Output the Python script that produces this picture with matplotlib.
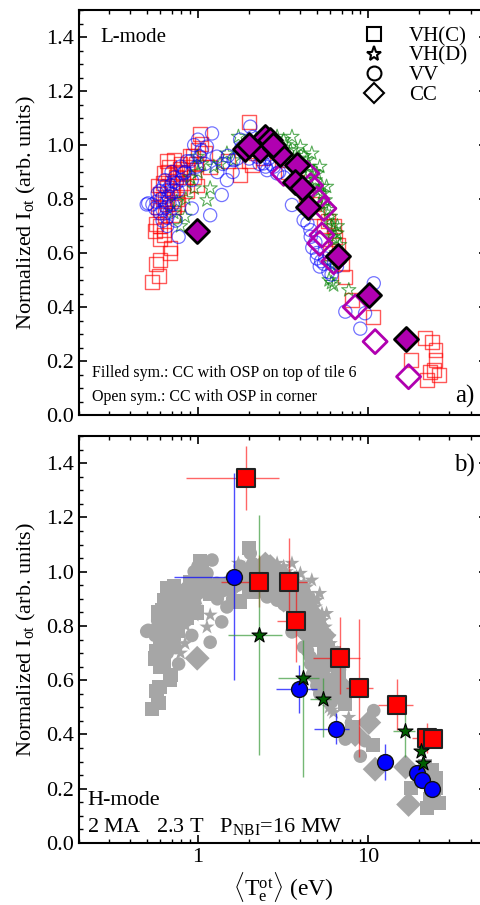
import numpy as np
import matplotlib
matplotlib.use("Agg")
import matplotlib.pyplot as plt
from matplotlib.lines import Line2D
from matplotlib.ticker import MultipleLocator, LogLocator, NullFormatter, FixedLocator, FixedFormatter

plt.rcParams['font.family'] = ['Liberation Serif', 'DejaVu Serif']
plt.rcParams['mathtext.fontset'] = 'custom'
plt.rcParams['mathtext.rm'] = 'Liberation Serif'
plt.rcParams['mathtext.it'] = 'Liberation Serif:italic'

# ---- L-mode cloud (T_e in eV, normalized I_ot) ----
vhc_T = [0.537, 0.587, 0.57, 0.595, 0.687, 0.69, 0.57, 0.63, 0.63, 0.60,
         0.58, 0.63, 0.655, 0.72, 0.79, 0.82, 1.03, 1.05, 0.99, 0.86, 0.75, 1.18,
         0.62, 0.66, 0.70, 0.75, 0.68, 0.60, 0.64, 0.72, 0.93, 0.88, 1.0, 0.95, 0.78,
         0.6, 0.62, 0.66, 0.7, 0.74, 0.78, 0.82, 0.86, 0.9, 0.67, 0.58, 0.64, 0.71,
         0.76, 0.6, 0.56, 1.1, 0.98, 1.5,
         1.77, 1.99, 2.08, 2.0, 2.4, 2.2, 2.6, 3.12, 3.4, 3.83, 4.3, 4.8, 5.0, 5.5,
         5.8, 6.27, 6.4, 6.7, 6.0, 7.0, 7.35, 8.06, 10.7,
         21.7, 23.7, 24.9, 24.9, 17.9, 24.5, 22.2, 26.0, 23.0]
vhc_I = [0.494, 0.515, 0.56, 0.575, 0.60, 0.62, 0.707, 0.685, 0.667, 0.70,
         0.85, 0.895, 0.94, 0.945, 0.93, 0.895, 1.04, 1.005, 0.85, 0.83, 0.80, 0.92,
         0.80, 0.78, 0.86, 0.90, 0.92, 0.76, 0.74, 0.77, 0.96, 0.90, 0.98, 0.88, 0.84,
         0.82, 0.86, 0.84, 0.83, 0.88, 0.91, 0.86, 0.92, 0.96, 0.90, 0.77, 0.80, 0.74,
         0.78, 0.65, 0.68, 0.97, 0.93, 0.94,
         0.89, 1.086, 0.926, 0.94, 0.95, 0.97, 0.99, 0.944, 0.90, 0.864, 0.82, 0.78, 0.75, 0.70,
         0.72, 0.70, 0.66, 0.63, 0.60, 0.56, 0.512, 0.426, 0.362,
         0.284, 0.27, 0.24, 0.204, 0.204, 0.167, 0.13, 0.148, 0.16]

vhd_T = [0.79, 0.84, 1.13, 1.18, 1.62, 1.73, 3.19, 3.57, 4.0, 4.67, 5.0, 5.36, 5.6,
         6.0, 6.27, 6.4, 6.0, 6.27, 7.7, 4.37, 5.2, 5.7, 3.8, 2.92, 1.48, 0.99, 1.24,
         5.2, 6.56, 6.7, 0.75, 0.9, 1.05, 0.72, 4.2, 4.8, 5.4, 5.9, 6.1, 3.3, 2.7, 6.5, 5.9,
         3.5, 3.9, 4.1, 4.5, 4.9, 5.1, 5.5, 5.8, 6.2, 6.8, 6.6, 3.0, 2.5, 2.2, 1.9,
         0.95, 0.85, 1.0, 1.35, 6.3, 6.1, 4.7, 4.3]
vhd_I = [0.70, 0.735, 0.796, 0.84, 0.944, 1.031, 1.019, 1.031, 0.994, 0.969, 0.895, 0.846, 0.796,
         0.735, 0.685, 0.648, 0.562, 0.481, 0.463, 0.944, 0.92, 0.846, 0.981, 1.031, 0.969, 0.957, 0.92,
         0.772, 0.673, 0.599, 0.79, 0.88, 0.93, 0.75, 0.96, 0.90, 0.82, 0.76, 0.70, 1.00, 1.00, 0.60, 0.50,
         0.98, 0.95, 0.92, 0.92, 0.87, 0.83, 0.78, 0.72, 0.66, 0.63, 0.70, 0.98, 1.04, 1.02, 0.98,
         0.84, 0.80, 0.90, 0.93, 0.55, 0.49, 0.84, 0.87]

vv_T = [0.51, 0.56, 0.61, 0.66, 0.70, 0.77, 0.66, 1.18, 0.92, 0.92, 1.21, 1.13, 1.38, 1.48,
        1.62, 1.77, 2.03, 2.22, 2.55, 2.92, 3.57, 4.18, 4.58, 5.0, 5.2, 5.85, 6.56, 7.35, 9.0,
        10.8, 9.6, 0.63, 0.72, 0.82, 0.60, 0.68, 0.79, 1.03, 1.29, 2.12, 2.43, 2.79, 0.54, 0.58,
        0.64, 0.70, 0.86, 0.95, 1.05, 0.75, 0.67, 0.62, 1.9, 2.3, 2.6, 4.9, 5.3, 4.7, 5.6, 6.1,
        0.98, 1.1, 0.74, 0.66,
        1.4, 1.5, 1.7, 1.8, 2.0, 2.1, 2.4, 2.5, 2.7, 3.0, 3.2, 1.3, 1.6, 0.57, 0.6, 0.65,
        0.69, 0.73, 0.76, 0.8, 0.84, 0.9, 0.62, 0.68, 1.0, 4.6, 5.0, 5.5, 4.4, 0.5, 0.71]
vv_I = [0.784, 0.765, 0.80, 0.833, 0.82, 0.66, 0.73, 0.74, 0.765, 0.87, 1.043, 0.994, 0.815, 0.87,
        0.944, 1.02, 1.068, 0.957, 0.907, 0.895, 0.778, 0.722, 0.685, 0.60, 0.55, 0.53, 0.55, 0.383, 0.32,
        0.488, 0.377, 0.846, 0.864, 0.895, 0.747, 0.784, 0.92, 0.957, 0.957, 0.994, 0.932, 0.92, 0.78, 0.82,
        0.87, 0.90, 0.94, 1.0, 0.98, 0.86, 0.81, 0.76, 0.97, 0.93, 0.95, 0.64, 0.57, 0.62, 0.58, 0.52,
        0.92, 0.93, 0.72, 0.70,
        0.93, 0.96, 0.95, 0.99, 0.95, 1.03, 1.0, 0.92, 0.93, 0.90, 0.88, 0.90, 0.90, 0.79, 0.83, 0.77,
        0.85, 0.88, 0.83, 0.87, 0.90, 0.94, 0.72, 0.75, 1.02, 0.66, 0.58, 0.56, 0.71, 0.78, 0.78]

cc_fill_T = [0.99, 1.88, 2.33, 2.49, 2.66, 2.85, 3.02, 3.83, 3.74, 4.09, 4.44, 6.7, 10.1, 16.6, 2.0, 2.75]
cc_fill_I = [0.681, 0.985, 0.981, 1.028, 1.019, 0.988, 0.967, 0.926, 0.864, 0.84, 0.769, 0.589, 0.444, 0.28, 1.0, 1.0]
cc_open_T = [3.19, 4.37, 5.0, 5.5, 5.36, 5.2, 6.27, 8.4, 11.0, 17.3, 4.6]
cc_open_I = [0.895, 0.895, 0.80, 0.765, 0.667, 0.636, 0.568, 0.40, 0.272, 0.142, 0.85]

# ---- H-mode points with error bars (value, low, high) ----
h_vhc_T = [1.92, 2.28, 3.43, 3.77, 6.84, 8.85, 14.8, 22.2, 24.0]
h_vhc_Tlo = [0.85, 1.37, 3.0, 2.91, 4.75, 7.4, 11.4, 18.1, 23.0]
h_vhc_Thi = [2.99, 2.55, 4.37, 4.1, 9.0, 10.7, 18.4, 23.0, 25.0]
h_vhc_I = [1.345, 0.962, 0.962, 0.818, 0.682, 0.571, 0.509, 0.386, 0.383]
h_vhc_Ilo = [1.227, 0.87, 0.85, 0.667, 0.55, 0.317, 0.417, 0.33, 0.36]
h_vhc_Ihi = [1.463, 1.061, 1.124, 1.0, 0.833, 0.826, 0.604, 0.442, 0.40]

h_vv_T = [1.63, 3.94, 6.46, 12.6, 19.5, 20.7, 23.9]
h_vv_Tlo = [0.726, 2.87, 4.8, 11.5, 18.5, 19.8, 23.0]
h_vv_Thi = [1.75, 4.99, 7.7, 13.8, 20.5, 22.0, 24.8]
h_vv_I = [0.98, 0.568, 0.419, 0.297, 0.259, 0.232, 0.20]
h_vv_Ilo = [0.60, 0.479, 0.365, 0.232, 0.24, 0.21, 0.19]
h_vv_Ihi = [1.364, 0.656, 0.479, 0.365, 0.28, 0.255, 0.21]

h_vhd_T = [2.28, 4.13, 5.46, 16.4, 20.4, 21.0]
h_vhd_Tlo = [1.50, 2.96, 4.56, 14.0, 19.5, 20.0]
h_vhd_Thi = [3.12, 5.15, 6.06, 18.9, 21.3, 22.0]
h_vhd_I = [0.767, 0.609, 0.531, 0.413, 0.34, 0.296]
h_vhd_Ilo = [0.324, 0.243, 0.391, 0.317, 0.32, 0.28]
h_vhd_Ihi = [1.209, 0.748, 0.608, 0.497, 0.36, 0.31]

RED = '#ff0000'
BLUE = '#0000ff'
GREEN = '#008000'
MAG = '#b000b0'
GRAY = '#a6a6a6'

fig = plt.figure(figsize=(4.8, 9.05), dpi=100)
ax1 = fig.add_axes([0.1646, 0.5414, 0.85, 0.4475])
ax2 = fig.add_axes([0.1646, 0.0685, 0.85, 0.4497])

def style(ax):
    ax.set_xscale('log')
    ax.set_xlim(0.2, 50)
    ax.set_ylim(0, 1.5)
    ax.yaxis.set_major_locator(FixedLocator([0.0, 0.2, 0.4, 0.6, 0.8, 1.0, 1.2, 1.4]))
    ax.yaxis.set_major_formatter(FixedFormatter(['0.0', '0.2', '0.4', '0.6', '0.8', '1.0', '1.2', '1.4']))
    ax.yaxis.set_minor_locator(MultipleLocator(0.05))
    ax.xaxis.set_major_locator(FixedLocator([1, 10]))
    ax.xaxis.set_minor_locator(LogLocator(base=10, subs=np.arange(2, 10)))
    ax.xaxis.set_minor_formatter(NullFormatter())
    ax.tick_params(which='both', direction='in', top=True, right=True, labelsize=16)
    ax.tick_params(which='major', length=6, width=1.2)
    ax.tick_params(which='minor', length=3, width=1.0)
    for s in ax.spines.values():
        s.set_linewidth(1.5)
    ax.set_ylabel(r'Normalized I$_{\mathrm{ot}}$ (arb. units)', fontsize=16, labelpad=6)

style(ax1)
style(ax2)

# top panel: L-mode
ax1.scatter(vhc_T, vhc_I, s=100, marker='s', facecolors='none', edgecolors=RED, linewidths=1.0, alpha=0.65)
ax1.scatter(vhd_T, vhd_I, s=115, marker='*', facecolors='none', edgecolors=GREEN, linewidths=0.8, alpha=0.65)
ax1.scatter(vv_T, vv_I, s=90, marker='o', facecolors='none', edgecolors=BLUE, linewidths=0.9, alpha=0.55)
ax1.scatter(cc_open_T, cc_open_I, s=150, marker='D', facecolors='none', edgecolors=MAG, linewidths=2.0, zorder=4)
ax1.scatter(cc_fill_T, cc_fill_I, s=150, marker='D', facecolors=MAG, edgecolors='black', linewidths=2.0, zorder=5)
ax1.set_xticklabels([])

ax1.text(0.052, 0.955, 'L-mode', transform=ax1.transAxes, fontsize=15, va='top')
ax1.text(0.032, 0.105, 'Filled sym.: CC with OSP on top of tile 6', transform=ax1.transAxes, fontsize=11.5, va='center')
ax1.text(0.032, 0.045, 'Open sym.: CC with OSP in corner', transform=ax1.transAxes, fontsize=11.5, va='center')
ax1.text(0.97, 0.045, 'a)', transform=ax1.transAxes, fontsize=18, va='center', ha='right')

handles = [Line2D([], [], ls='none', marker='s', mfc='none', mec='black', ms=10, mew=1.5),
           Line2D([], [], ls='none', marker='*', mfc='none', mec='black', ms=11, mew=1.5),
           Line2D([], [], ls='none', marker='o', mfc='none', mec='black', ms=10, mew=1.5),
           Line2D([], [], ls='none', marker='D', mfc='none', mec='black', ms=10, mew=1.5)]
ax1.legend(handles, ['VH(C)', 'VH(D)', 'VV', 'CC'], loc='upper left', bbox_to_anchor=(0.635, 0.995),
           frameon=False, fontsize=15, handletextpad=0.7, labelspacing=0.0, borderpad=0.2)

# bottom panel: H-mode
for T, I, m, s in [(vhc_T, vhc_I, 's', 105), (vhd_T, vhd_I, '*', 130), (vv_T, vv_I, 'o', 95),
                   (cc_open_T, cc_open_I, 'D', 160), (cc_fill_T, cc_fill_I, 'D', 160)]:
    ax2.scatter(T, I, s=s, marker=m, color=GRAY, edgecolors='none', zorder=1)

def errs(v, lo, hi):
    v = np.array(v); lo = np.array(lo); hi = np.array(hi)
    return np.vstack([v - lo, hi - v])

ax2.errorbar(h_vhc_T, h_vhc_I, xerr=errs(h_vhc_T, h_vhc_Tlo, h_vhc_Thi), yerr=errs(h_vhc_I, h_vhc_Ilo, h_vhc_Ihi),
             fmt='none', ecolor=RED, elinewidth=1.0, alpha=0.6, zorder=2)
ax2.errorbar(h_vv_T, h_vv_I, xerr=errs(h_vv_T, h_vv_Tlo, h_vv_Thi), yerr=errs(h_vv_I, h_vv_Ilo, h_vv_Ihi),
             fmt='none', ecolor=BLUE, elinewidth=1.0, alpha=0.7, zorder=2)
ax2.errorbar(h_vhd_T, h_vhd_I, xerr=errs(h_vhd_T, h_vhd_Tlo, h_vhd_Thi), yerr=errs(h_vhd_I, h_vhd_Ilo, h_vhd_Ihi),
             fmt='none', ecolor='#3a9a3a', elinewidth=1.0, alpha=0.7, zorder=2)
ax2.scatter(h_vhc_T, h_vhc_I, s=150, marker='s', facecolors=RED, edgecolors='#222222', linewidths=1.5, zorder=4)
ax2.scatter(h_vv_T, h_vv_I, s=130, marker='o', facecolors=BLUE, edgecolors='#111111', linewidths=1.0, zorder=4)
ax2.scatter(h_vhd_T, h_vhd_I, s=130, marker='*', facecolors='#006000', edgecolors='black', linewidths=0.8, zorder=5)

ax2.xaxis.set_major_formatter(FixedFormatter(['1', '10']))
ax2.set_xlabel(r'$\langle\mathrm{T}_\mathrm{e}^{\mathrm{ot}}\rangle$ (eV)', fontsize=17, labelpad=2)
ax2.text(0.97, 0.955, 'b)', transform=ax2.transAxes, fontsize=18, va='top', ha='right')
ax2.text(0.02, 0.105, 'H-mode', transform=ax2.transAxes, fontsize=16, va='center')
ax2.text(0.02, 0.04, r'2 MA   2.3 T   P$_{\mathrm{NBI}}$=16 MW', transform=ax2.transAxes, fontsize=16, va='center')

fig.savefig('out.png', dpi=100)
